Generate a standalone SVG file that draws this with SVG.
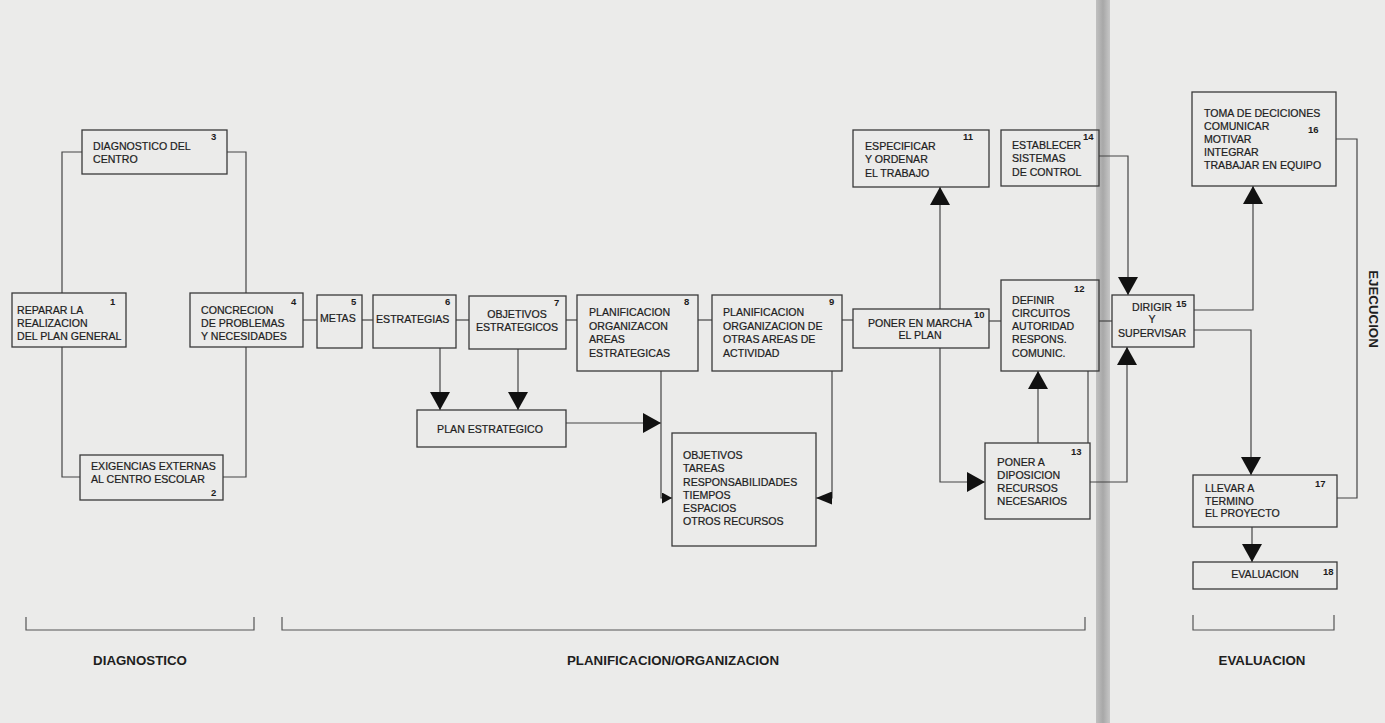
<svg xmlns="http://www.w3.org/2000/svg" width="1385" height="723" viewBox="0 0 1385 723">
  <defs>
    <style>
      .bx { fill: none; stroke: #3a3a3a; stroke-width: 1.3; }
      .t { font-family: "Liberation Sans", Arial, sans-serif; font-size: 10.6px; fill: #202020; stroke: #202020; stroke-width: 0.2; }
      .m { text-anchor: middle; }
      .n { font-family: "Liberation Sans", Arial, sans-serif; font-size: 9.5px; font-weight: bold; fill: #1c1c1c; }
      .c { fill: none; stroke: #454545; stroke-width: 1.2; }
      .br { fill: none; stroke: #555; stroke-width: 1.2; }
      .lbl { font-family: "Liberation Sans", Arial, sans-serif; font-size: 13.3px; font-weight: bold; fill: #1e1e1e; text-anchor: middle; }
    </style>
    <marker id="ah" viewBox="0 0 18 20" refX="18" refY="10" markerWidth="18" markerHeight="20" orient="auto" markerUnits="userSpaceOnUse">
      <path d="M0,0 L18,10 L0,20 z" fill="#111"/>
    </marker>
    <marker id="ahm" viewBox="0 0 16 13" refX="16" refY="6.5" markerWidth="16" markerHeight="13" orient="auto" markerUnits="userSpaceOnUse">
      <path d="M0,0 L16,6.5 L0,13 z" fill="#111"/>
    </marker>
    <marker id="ahs" viewBox="0 0 10 11" refX="10" refY="5.5" markerWidth="10" markerHeight="11" orient="auto" markerUnits="userSpaceOnUse">
      <path d="M0,0 L10,5.5 L0,11 z" fill="#111"/>
    </marker>
    <linearGradient id="fold" x1="0" y1="0" x2="1" y2="0">
      <stop offset="0" stop-color="#c0c0c0"/>
      <stop offset="0.5" stop-color="#a8a8a8"/>
      <stop offset="1" stop-color="#c6c6c6"/>
    </linearGradient>
  </defs>

  <!-- page -->
  <rect x="0" y="0" width="1385" height="723" fill="#ebebea"/>
  <rect x="1096" y="0" width="14" height="723" fill="url(#fold)"/>

  <!-- connectors -->
  <g id="connectors">
    <path class="c" d="M82,152 H62 V293"/>
    <path class="c" d="M227,152 H246 V293"/>
    <path class="c" d="M62,347 V477 H80"/>
    <path class="c" d="M246,347 V477 H223"/>
    <path class="c" d="M303,320 H317"/>
    <path class="c" d="M362,320 H373"/>
    <path class="c" d="M456,320 H469"/>
    <path class="c" d="M566,320 H577"/>
    <path class="c" d="M698,320 H712"/>
    <path class="c" d="M842,320 H853"/>
    <path class="c" d="M989,321 H1001"/>
    <path class="c" d="M1099,321 H1112"/>
    <path class="c" d="M440,348 V410" marker-end="url(#ah)"/>
    <path class="c" d="M518,349 V410" marker-end="url(#ah)"/>
    <path class="c" d="M566,423 H661" marker-end="url(#ah)"/>
    <path class="c" d="M661,371 V498 H672" marker-end="url(#ahs)"/>
    <path class="c" d="M832,371 V498 H816" marker-end="url(#ahm)"/>
    <path class="c" d="M940,309 V187" marker-end="url(#ah)"/>
    <path class="c" d="M940,348 V482 H985" marker-end="url(#ah)"/>
    <path class="c" d="M1038,443 V371" marker-end="url(#ah)"/>
    <path class="c" d="M1090,482 H1127 V347" marker-end="url(#ah)"/>
    <path class="c" d="M1088,371 V443"/>
    <path class="c" d="M1099,156 H1128 V295" marker-end="url(#ah)"/>
    <path class="c" d="M1194,310 H1253 V186" marker-end="url(#ah)"/>
    <path class="c" d="M1194,330 H1251 V475" marker-end="url(#ah)"/>
    <path class="c" d="M1252,527 V562" marker-end="url(#ah)"/>
    <path class="c" d="M1336,139 H1357 V498 H1337"/>
  </g>

  <g id="n1">
    <rect class="bx" x="12" y="293" width="114" height="54"/>
    <text class="t" x="17" y="314">REPARAR LA</text>
    <text class="t" x="17" y="327">REALIZACION</text>
    <text class="t" x="17" y="340">DEL PLAN GENERAL</text>
    <text class="n" x="110" y="305">1</text>
  </g>
  <g id="n2">
    <rect class="bx" x="80" y="455" width="143" height="45"/>
    <text class="t" x="91" y="470">EXIGENCIAS EXTERNAS</text>
    <text class="t" x="91" y="483">AL CENTRO ESCOLAR</text>
    <text class="n" x="211" y="496">2</text>
  </g>
  <g id="n3">
    <rect class="bx" x="82" y="130" width="145" height="44"/>
    <text class="t" x="93" y="150">DIAGNOSTICO DEL</text>
    <text class="t" x="93" y="163">CENTRO</text>
    <text class="n" x="211" y="140">3</text>
  </g>
  <g id="n4">
    <rect class="bx" x="190" y="293" width="113" height="54"/>
    <text class="t" x="201" y="314">CONCRECION</text>
    <text class="t" x="201" y="327">DE PROBLEMAS</text>
    <text class="t" x="201" y="340">Y NECESIDADES</text>
    <text class="n" x="291" y="305">4</text>
  </g>
  <g id="n5">
    <rect class="bx" x="317" y="295" width="45" height="53"/>
    <text class="t" x="320" y="322">METAS</text>
    <text class="n" x="351" y="305">5</text>
  </g>
  <g id="n6">
    <rect class="bx" x="373" y="295" width="83" height="53"/>
    <text class="t" x="376" y="323">ESTRATEGIAS</text>
    <text class="n" x="445" y="305">6</text>
  </g>
  <g id="n7">
    <rect class="bx" x="469" y="296" width="97" height="53"/>
    <text class="t m" x="517" y="318">OBJETIVOS</text>
    <text class="t m" x="517" y="331">ESTRATEGICOS</text>
    <text class="n" x="554" y="306">7</text>
  </g>
  <g id="plan-estrategico">
    <rect class="bx" x="417" y="410" width="149" height="37"/>
    <text class="t m" x="490" y="433">PLAN ESTRATEGICO</text>
  </g>
  <g id="n8">
    <rect class="bx" x="577" y="295" width="121" height="76"/>
    <text class="t" x="589" y="316">PLANIFICACION</text>
    <text class="t" x="589" y="329.5">ORGANIZACON</text>
    <text class="t" x="589" y="343">AREAS</text>
    <text class="t" x="589" y="356.5">ESTRATEGICAS</text>
    <text class="n" x="684" y="305">8</text>
  </g>
  <g id="n9">
    <rect class="bx" x="712" y="295" width="130" height="76"/>
    <text class="t" x="723" y="316">PLANIFICACION</text>
    <text class="t" x="723" y="329.5">ORGANIZACION DE</text>
    <text class="t" x="723" y="343">OTRAS AREAS DE</text>
    <text class="t" x="723" y="356.5">ACTIVIDAD</text>
    <text class="n" x="829" y="305">9</text>
  </g>
  <g id="contenidos">
    <rect class="bx" x="672" y="433" width="144" height="113"/>
    <text class="t" x="683" y="459">OBJETIVOS</text>
    <text class="t" x="683" y="472">TAREAS</text>
    <text class="t" x="683" y="485.5">RESPONSABILIDADES</text>
    <text class="t" x="683" y="498.5">TIEMPOS</text>
    <text class="t" x="683" y="511.5">ESPACIOS</text>
    <text class="t" x="683" y="525">OTROS RECURSOS</text>
  </g>
  <g id="n10">
    <rect class="bx" x="853" y="309" width="136" height="39"/>
    <text class="t m" x="920" y="327">PONER EN MARCHA</text>
    <text class="t m" x="920" y="339">EL PLAN</text>
    <text class="n" x="974" y="318">10</text>
  </g>
  <g id="n11">
    <rect class="bx" x="853" y="130" width="136" height="57"/>
    <text class="t" x="865" y="150">ESPECIFICAR</text>
    <text class="t" x="865" y="163">Y ORDENAR</text>
    <text class="t" x="865" y="177">EL TRABAJO</text>
    <text class="n" x="963" y="140">11</text>
  </g>
  <g id="n12">
    <rect class="bx" x="1001" y="280" width="98" height="91"/>
    <text class="t" x="1012" y="304">DEFINIR</text>
    <text class="t" x="1012" y="317">CIRCUITOS</text>
    <text class="t" x="1012" y="330">AUTORIDAD</text>
    <text class="t" x="1012" y="343">RESPONS.</text>
    <text class="t" x="1012" y="357">COMUNIC.</text>
    <text class="n" x="1074" y="292">12</text>
  </g>
  <g id="n13">
    <rect class="bx" x="985" y="443" width="105" height="76"/>
    <text class="t" x="997" y="466"><tspan font-size="11.6">P</tspan>ONER A</text>
    <text class="t" x="997" y="479"><tspan font-size="11.6">D</tspan>IPOSICION</text>
    <text class="t" x="997" y="492"><tspan font-size="11.6">R</tspan>ECURSOS</text>
    <text class="t" x="997" y="505"><tspan font-size="11.6">N</tspan>ECESARIOS</text>
    <text class="n" x="1071" y="455">13</text>
  </g>
  <g id="n14">
    <rect class="bx" x="1001" y="130" width="98" height="56"/>
    <text class="t" x="1012" y="149">ESTABLECER</text>
    <text class="t" x="1012" y="162">SISTEMAS</text>
    <text class="t" x="1012" y="176">DE CONTROL</text>
    <text class="n" x="1083" y="140">14</text>
  </g>
  <g id="n15">
    <rect class="bx" x="1112" y="295" width="82" height="52"/>
    <text class="t m" x="1152" y="311">DIRIGIR</text>
    <text class="t m" x="1152" y="323">Y</text>
    <text class="t m" x="1152" y="337">SUPERVISAR</text>
    <text class="n" x="1176" y="307">15</text>
  </g>
  <g id="n16">
    <rect class="bx" x="1192" y="92" width="144" height="94"/>
    <text class="t" x="1204" y="117">TOMA DE DECICIONES</text>
    <text class="t" x="1204" y="130">COMUNICAR</text>
    <text class="t" x="1204" y="143">MOTIVAR</text>
    <text class="t" x="1204" y="156">INTEGRAR</text>
    <text class="t" x="1204" y="169">TRABAJAR EN EQUIPO</text>
    <text class="n" x="1308" y="133">16</text>
  </g>
  <g id="n17">
    <rect class="bx" x="1193" y="475" width="144" height="52"/>
    <text class="t" x="1205" y="492">LLEVAR A</text>
    <text class="t" x="1205" y="505">TERMINO</text>
    <text class="t" x="1205" y="517">EL PROYECTO</text>
    <text class="n" x="1315" y="487">17</text>
  </g>
  <g id="n18">
    <rect class="bx" x="1193" y="562" width="144" height="27"/>
    <text class="t m" x="1265" y="578">EVALUACION</text>
    <text class="n" x="1323" y="575">18</text>
  </g>

  <!-- phase brackets -->
  <g id="fases">
    <path class="br" d="M26,617 V630 H254 V617"/>
    <path class="br" d="M282,617 V630 H1085 V617"/>
    <path class="br" d="M1193,615 V630 H1334 V615"/>
    <text class="lbl" x="140" y="665">DIAGNOSTICO</text>
    <text class="lbl" x="673" y="665">PLANIFICACION/ORGANIZACION</text>
    <text class="lbl" x="1262" y="665">EVALUACION</text>
    <text class="lbl" transform="translate(1369,309) rotate(90)">EJECUCION</text>
  </g>
</svg>
